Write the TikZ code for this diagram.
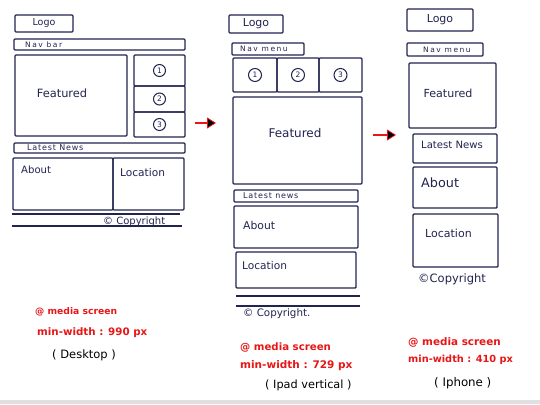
\documentclass[tikz,border=0pt]{standalone}
\usepackage{fontspec}
\setmainfont{DejaVu Sans}
\newfontfamily\spaced[LetterSpace=20]{DejaVu Sans}
\newfontfamily\loose[LetterSpace=10]{DejaVu Sans}
\usetikzlibrary{arrows.meta}

\definecolor{ink}{RGB}{34,36,80}
\definecolor{mred}{RGB}{232,22,22}

\newcommand{\fs}[1]{\fontsize{#1}{#1}\selectfont}

\tikzset{
  box/.style={draw=ink, line width=1.4pt, inner sep=0pt, rounded corners=1pt},
  lbl/.style={text=ink, inner sep=0pt, font=\fs{10}},
  navtext/.style={text=ink, inner sep=0pt, anchor=west, font=\spaced\fs{7.5}},
  newstext/.style={text=ink, inner sep=0pt, anchor=west, font=\loose\fs{8}},
  num/.style={draw=ink, circle, line width=1pt, minimum size=12pt, inner sep=0pt,
              text=ink, font=\fs{7.5}},
  rule/.style={draw=ink, line width=1.4pt},
  media/.style={text=mred, anchor=west, inner sep=0pt, font=\bfseries\fs{10}},
  device/.style={text=black, anchor=west, inner sep=0pt, font=\fs{11.5}},
  flow/.style={draw=mred, line width=2pt,
               -{Triangle[length=9pt,width=11pt,fill=black,line width=0.8pt]}}
}

\begin{document}
\begin{tikzpicture}[x=1pt, y=-1pt]
  \useasboundingbox[fill=white] (0,0) rectangle (540,404);
  \fill[black!12] (0,400) rectangle (540,404);

  % ---------- desktop layout ----------
  \node[box, minimum width=58pt, minimum height=17pt] (dlogo) at (44,23.5) {};
  \node[lbl, font=\fs{9.5}] at (dlogo.center) {Logo};
  \node[box, minimum width=171pt, minimum height=11pt] (dnav) at (99.5,44.5) {};
  \node[navtext] at (25,44.5) {Nav bar};
  \node[box, minimum width=112pt, minimum height=81pt] (dfeat) at (71,95.5) {};
  \node[lbl, font=\fs{11.4}] at (62,93) {Featured};
  \node[box, minimum width=51pt, minimum height=31pt] (d1) at (159.5,70.5) {};
  \node[box, minimum width=51pt, minimum height=26pt] (d2) at (159.5,99) {};
  \node[box, minimum width=51pt, minimum height=25pt] (d3) at (159.5,124.5) {};
  \node[num] at (d1.center) {1};
  \node[num] at (d2.center) {2};
  \node[num] at (d3.center) {3};
  \node[box, minimum width=171pt, minimum height=10pt] (dnews) at (99.5,148) {};
  \node[newstext] at (27,148) {Latest News};
  \node[box, minimum width=100pt, minimum height=52pt] (dabout) at (63,184) {};
  \node[lbl, anchor=west, font=\fs{10.1}] at (21,170) {About};
  \node[box, minimum width=71pt, minimum height=52pt] (dloc) at (148.5,184) {};
  \node[lbl, anchor=west, font=\fs{10.6}] at (120,173) {Location};
  \coordinate (dr1a) at (12,214); \coordinate (dr1b) at (180,214);
  \coordinate (dr2a) at (12,226); \coordinate (dr2b) at (182,226);
  \draw[rule] (dr1a) -- (dr1b);
  \draw[rule] (dr2a) -- (dr2b);
  \node[lbl, anchor=west] at (103,222) {© Copyright};

  % ---------- tablet layout ----------
  \node[box, minimum width=54pt, minimum height=18pt] (tlogo) at (256,24) {};
  \node[lbl, font=\fs{11}] at (tlogo.center) {Logo};
  \node[box, minimum width=72pt, minimum height=12pt] (tnav) at (268,49) {};
  \node[navtext] at (240,49) {Nav menu};
  \node[box, minimum width=44pt, minimum height=34pt] (t1) at (255,75) {};
  \node[box, minimum width=42pt, minimum height=34pt] (t2) at (298,75) {};
  \node[box, minimum width=43pt, minimum height=34pt] (t3) at (340.5,75) {};
  \node[num, minimum size=13pt] at (t1.center) {1};
  \node[num, minimum size=13pt] at (t2.center) {2};
  \node[num, minimum size=13pt] at (t3.center) {3};
  \node[box, minimum width=129pt, minimum height=87pt] (tfeat) at (297.5,140.5) {};
  \node[lbl, font=\fs{12}] at (295,133) {Featured};
  \node[box, minimum width=124pt, minimum height=12pt] (tnews) at (296,196) {};
  \node[newstext] at (243,196) {Latest news};
  \node[box, minimum width=124pt, minimum height=42pt] (tabout) at (296,227) {};
  \node[lbl, anchor=west, font=\fs{10.8}] at (243,225) {About};
  \node[box, minimum width=120pt, minimum height=36pt] (tloc) at (296,270) {};
  \node[lbl, anchor=west, font=\fs{10.6}] at (242,266) {Location};
  \coordinate (tr1a) at (236,296); \coordinate (tr1b) at (360,296);
  \coordinate (tr2a) at (236,306); \coordinate (tr2b) at (360,306);
  \draw[rule] (tr1a) -- (tr1b);
  \draw[rule] (tr2a) -- (tr2b);
  \node[lbl, anchor=west, font=\fs{10.3}] at (243,314) {© Copyright.};

  % ---------- phone layout ----------
  \node[box, minimum width=66pt, minimum height=22pt] (plogo) at (440,20) {};
  \node[lbl, font=\fs{11}] at (plogo.center) {Logo};
  \node[box, minimum width=76pt, minimum height=13pt] (pnav) at (445,49.5) {};
  \node[navtext] at (423,49.5) {Nav menu};
  \node[box, minimum width=87pt, minimum height=65pt] (pfeat) at (452.5,95.5) {};
  \node[lbl, font=\fs{11.1}] at (448,93) {Featured};
  \node[box, minimum width=84pt, minimum height=29pt] (pnews) at (455,148.5) {};
  \node[lbl, font=\fs{10.1}] at (452,145) {Latest News};
  \node[box, minimum width=84pt, minimum height=41pt] (pabout) at (455,187.5) {};
  \node[lbl, anchor=west, font=\fs{12.8}] at (421,183) {About};
  \node[box, minimum width=85pt, minimum height=53pt] (ploc) at (455.5,240.5) {};
  \node[lbl, anchor=west, font=\fs{11}] at (425,233) {Location};
  \node[lbl, anchor=west, font=\fs{11.5}] at (418,279) {©Copyright};

  % ---------- transitions ----------
  \coordinate (a1s) at (195,123); \coordinate (a1e) at (216,123);
  \coordinate (a2s) at (373,135); \coordinate (a2e) at (396,135);
  \draw[flow] (a1s) -- (a1e);
  \draw[flow] (a2s) -- (a2e);

  % ---------- breakpoints ----------
  \node[media, font=\bfseries\fs{9.2}] at (35,312) {@ media screen};
  \node[media, font=\bfseries\fs{10.3}] at (37,333) {min-width : 990 px};
  \node[device] at (52,355) {( Desktop )};

  \node[media, font=\bfseries\fs{10.2}] at (240,348) {@ media screen};
  \node[media, font=\bfseries\fs{10.5}] at (240,366) {min-width : 729 px};
  \node[device, font=\fs{11.3}] at (265,385) {( Ipad vertical )};

  \node[media, font=\bfseries\fs{10.4}] at (408,342) {@ media screen};
  \node[media, font=\bfseries\fs{9.8}] at (408,360) {min-width : 410 px};
  \node[device, font=\fs{11.8}] at (434,383) {( Iphone )};
\end{tikzpicture}
\end{document}
